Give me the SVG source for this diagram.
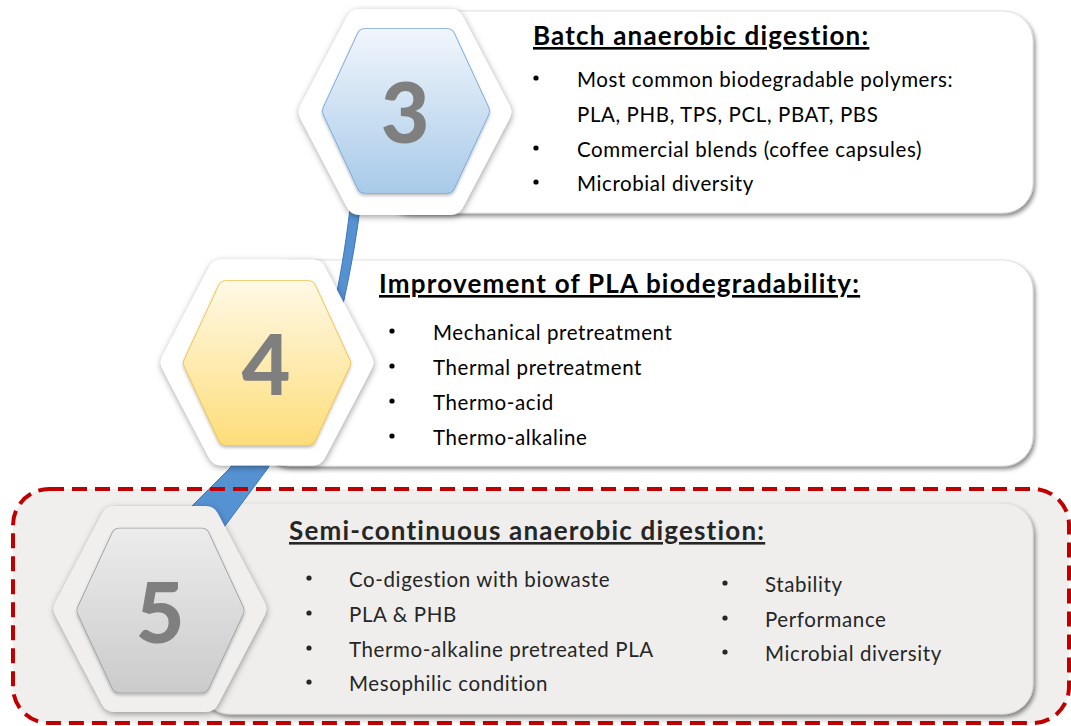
<svg xmlns="http://www.w3.org/2000/svg" xmlns:xlink="http://www.w3.org/1999/xlink" width="1071" height="726" viewBox="0 0 1071 726">
<style>
.box{stroke:#d9d9d9;stroke-width:0.8;filter:url(#boxsh)}
.title{font-family:Lato,"Liberation Sans",sans-serif;font-weight:700;font-size:26px;letter-spacing:1.2px;text-decoration:underline}
.body{font-family:Lato,"Liberation Sans",sans-serif;font-size:20.5px;letter-spacing:0.6px}
.num{font-family:Lato,"Liberation Sans",sans-serif;font-weight:900;font-size:84px;fill:#7f7f7f;text-anchor:middle}
.outer{stroke-width:28;stroke-linejoin:round;filter:url(#hexsh)}
.inner{stroke-width:16;stroke-linejoin:round}
.border{stroke-width:17.6;stroke-linejoin:round;filter:url(#insh)}
</style>
<defs>
<filter id="boxsh" x="-5%" y="-10%" width="112%" height="125%">
<feDropShadow dx="2" dy="3" stdDeviation="2.2" flood-color="#000" flood-opacity="0.45"/>
</filter>
<filter id="hexsh" x="-20%" y="-20%" width="140%" height="140%">
<feDropShadow dx="0.5" dy="2" stdDeviation="3" flood-color="#000" flood-opacity="0.38"/>
</filter>
<filter id="insh" x="-20%" y="-20%" width="140%" height="140%">
<feDropShadow dx="0" dy="2" stdDeviation="1.5" flood-color="#000" flood-opacity="0.25"/>
</filter>
<polygon id="hout" points="-92.2,0 -45.5,-89 45.5,-89 92.2,0 45.5,89 -45.5,89"/>
<polygon id="hin" points="-75.2,0 -40.9,-74 40.9,-74 75.2,0 40.9,74 -40.9,74"/>
<circle id="dot" r="2.6"/>
<linearGradient id="g3" gradientUnits="userSpaceOnUse" x1="0" y1="-82" x2="0" y2="82">
<stop offset="0" stop-color="#f1f6fc"/><stop offset="1" stop-color="#a8cae9"/>
</linearGradient>
<linearGradient id="g4" gradientUnits="userSpaceOnUse" x1="0" y1="-82" x2="0" y2="82">
<stop offset="0" stop-color="#fff9e6"/><stop offset="1" stop-color="#fddd7a"/>
</linearGradient>
<linearGradient id="g5" gradientUnits="userSpaceOnUse" x1="0" y1="-82" x2="0" y2="82">
<stop offset="0" stop-color="#ececec"/><stop offset="1" stop-color="#cbcbcb"/>
</linearGradient>
</defs>
<rect width="1071" height="726" fill="#fff"/>
<rect id="highlight-fill" x="13" y="489" width="1056" height="234" rx="36" fill="#f0efee"/>

<g id="box3"><rect class="box" x="380" y="11" width="653" height="202" rx="30" fill="#fff"/></g>
<g id="box4"><rect class="box" x="260" y="260" width="773" height="206" rx="30" fill="#fff"/></g>
<g id="box5"><rect class="box" x="200" y="503" width="833" height="211" rx="30" fill="#efeeed"/></g>

<g id="connectors">
<path d="M351,200 L361,200 C357,235 351,268 344,300 L268,468 L222,530 L184,514 L230,468 L336,296 C342,268 347,235 351,200 Z" fill="#5592d2" stroke="#3f76b6" stroke-width="1"/>
</g>

<rect id="highlight-border" x="13" y="489" width="1056" height="234" rx="36" fill="none" stroke="#c00000" stroke-width="4" stroke-dasharray="15 8"/>

<g id="hex3">
<use href="#hout" class="outer" transform="translate(405,112)" fill="#fff" stroke="#fff"/>
<use href="#hin" class="border" transform="translate(406,111)" fill="#7aa7d8" stroke="#7aa7d8"/>
<use href="#hin" class="inner" transform="translate(406,111)" fill="url(#g3)" stroke="url(#g3)"/>
<text class="num" x="405" y="143">3</text>
</g>
<g id="hex4">
<use href="#hout" class="outer" transform="translate(267,362.5)" fill="#fff" stroke="#fff"/>
<use href="#hin" class="border" transform="translate(267,363)" fill="#efc24a" stroke="#efc24a"/>
<use href="#hin" class="inner" transform="translate(267,363)" fill="url(#g4)" stroke="url(#g4)"/>
<text class="num" x="266" y="395">4</text>
</g>
<g id="hex5">
<use href="#hout" class="outer" transform="translate(160,609)" fill="#f0efee" stroke="#f0efee"/>
<use href="#hin" class="border" transform="translate(160.5,610.5)" fill="#a0a0a0" stroke="#a0a0a0"/>
<use href="#hin" class="inner" transform="translate(160.5,610.5)" fill="url(#g5)" stroke="url(#g5)"/>
<text class="num" x="160" y="643">5</text>
</g>

<g id="text3" fill="#000">
<text class="title" x="533" y="45">Batch anaerobic digestion:</text>
<use href="#dot" x="536" y="78"/><use href="#dot" x="536" y="148"/><use href="#dot" x="536" y="182"/>
<g class="body">
<text x="577" y="87">Most common biodegradable polymers:</text>
<text x="577" y="122">PLA, PHB, TPS, PCL, PBAT, PBS</text>
<text x="577" y="157">Commercial blends (coffee capsules)</text>
<text x="577" y="191">Microbial diversity</text>
</g>
</g>
<g id="text4" fill="#000">
<text class="title" x="379" y="293">Improvement of PLA biodegradability:</text>
<use href="#dot" x="392" y="331"/><use href="#dot" x="392" y="366"/><use href="#dot" x="392" y="401"/><use href="#dot" x="392" y="436"/>
<g class="body">
<text x="433" y="340">Mechanical pretreatment</text>
<text x="433" y="375">Thermal pretreatment</text>
<text x="433" y="410">Thermo-acid</text>
<text x="433" y="445">Thermo-alkaline</text>
</g>
</g>
<g id="text5" fill="#262626">
<text class="title" x="289" y="540">Semi-continuous anaerobic digestion:</text>
<use href="#dot" x="309" y="578"/><use href="#dot" x="309" y="613"/><use href="#dot" x="309" y="648"/><use href="#dot" x="309" y="682"/>
<use href="#dot" x="725" y="583"/><use href="#dot" x="725" y="618"/><use href="#dot" x="725" y="652"/>
<g class="body">
<text x="349" y="587">Co-digestion with biowaste</text>
<text x="349" y="622">PLA &amp; PHB</text>
<text x="349" y="657">Thermo-alkaline pretreated PLA</text>
<text x="349" y="691">Mesophilic condition</text>
<text x="765" y="592">Stability</text>
<text x="765" y="627">Performance</text>
<text x="765" y="661">Microbial diversity</text>
</g>
</g>
</svg>
